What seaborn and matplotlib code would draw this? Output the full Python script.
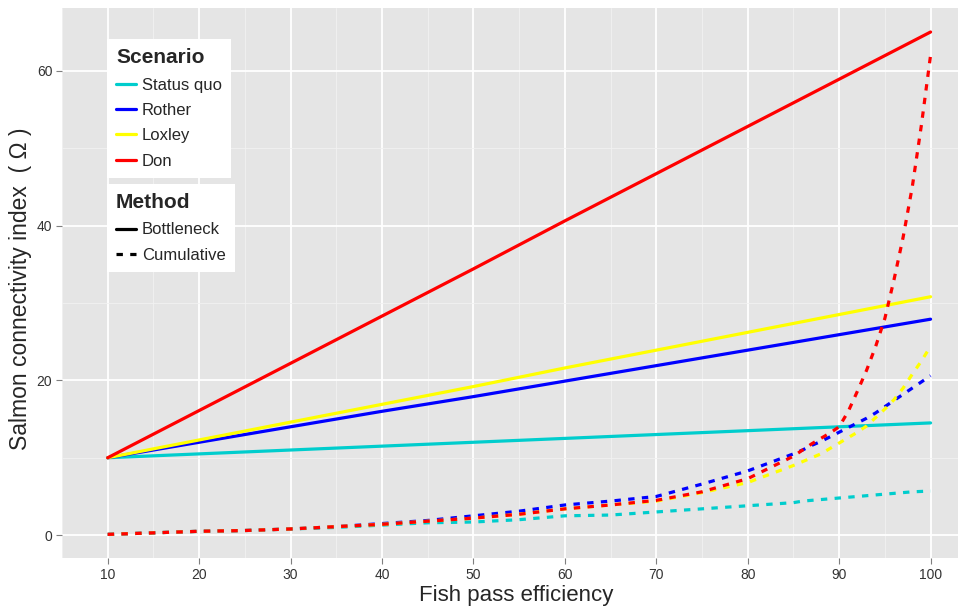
import seaborn as sns
import pandas as pd
import matplotlib.pyplot as plt
from matplotlib.lines import Line2D

# Bottleneck method (solid lines), read at every 10 %
x_bottleneck = [10, 20, 30, 40, 50, 60, 70, 80, 90, 100]
status_quo_b = [10, 10.5, 11.0, 11.5, 12.0, 12.5, 13.0, 13.5, 14.0, 14.5]
rother_b = [10, 12.0, 14.0, 16.0, 17.9, 19.9, 21.9, 23.9, 25.9, 27.9]
loxley_b = [10, 12.3, 14.6, 16.9, 19.2, 21.6, 23.9, 26.2, 28.5, 30.8]
don_b = [10, 16.1, 22.2, 28.3, 34.4, 40.6, 46.7, 52.8, 58.9, 65.0]

# Cumulative method (dashed lines)
x_cumulative = [10, 15, 20, 25, 30, 35, 40, 45, 50, 55, 60, 65, 70, 75, 80, 85,
                86, 87, 88, 89, 90, 91, 92, 93, 94, 95, 96, 97, 98, 99, 100]
status_quo_c = [0.1, 0.3, 0.5, 0.6, 0.8, 1.0, 1.3, 1.6, 1.7, 2.0, 2.5, 2.6, 3.0, 3.4, 3.8, 4.2,
                4.4, 4.5, 4.6, 4.7, 4.8, 4.9, 5.0, 5.1, 5.2, 5.3, 5.4, 5.5, 5.6, 5.65, 5.7]
rother_c = [0.1, 0.3, 0.5, 0.6, 0.8, 1.1, 1.5, 1.9, 2.5, 3.1, 3.9, 4.4, 5.0, 6.6, 8.3, 10.5,
            11.0, 11.6, 12.1, 12.7, 13.3, 13.9, 14.5, 15.1, 15.8, 16.6, 17.4, 18.2, 19.0, 19.8, 20.6]
loxley_c = [0.1, 0.3, 0.5, 0.6, 0.8, 1.1, 1.4, 1.8, 2.2, 2.7, 3.4, 3.9, 4.4, 5.5, 6.8, 9.0,
            9.5, 10.0, 10.5, 11.2, 11.9, 12.6, 13.3, 14.1, 15.2, 16.3, 17.5, 19.0, 20.8, 22.5, 24.4]
don_c = [0.1, 0.3, 0.5, 0.6, 0.8, 1.1, 1.4, 1.8, 2.2, 2.7, 3.4, 3.9, 4.5, 5.6, 7.3, 10.2,
         11.0, 11.8, 12.5, 13.2, 14.0, 16.0, 18.6, 21.3, 24.4, 28.0, 33.0, 38.5, 45.0, 53.0, 62.0]

scenarios = ["Status quo", "Rother", "Loxley", "Don"]
methods = ["Bottleneck", "Cumulative"]
colors = {"Status quo": "#00CDCD", "Rother": "#0000FF", "Loxley": "#FFFF00", "Don": "#FF0000"}

rows = []
for name, yb, yc in zip(scenarios,
                        [status_quo_b, rother_b, loxley_b, don_b],
                        [status_quo_c, rother_c, loxley_c, don_c]):
    for x, y in zip(x_bottleneck, yb):
        rows.append({"efficiency": x, "index": y, "Scenario": name, "Method": "Bottleneck"})
    for x, y in zip(x_cumulative, yc):
        rows.append({"efficiency": x, "index": y, "Scenario": name, "Method": "Cumulative"})
df = pd.DataFrame(rows)

sns.set_theme(style="darkgrid")
plt.rcParams["font.family"] = ["Liberation Sans", "DejaVu Sans"]

fig = plt.figure(figsize=(9.58, 6.09), dpi=100)
ax = fig.add_axes([62 / 958, 51 / 609, 896 / 958, 550 / 609])
ax.set_facecolor("#E5E5E5")

dash = (2.0, 2.3)
sns.lineplot(data=df, x="efficiency", y="index", hue="Scenario", style="Method",
             hue_order=scenarios, style_order=methods, palette=colors,
             dashes={"Bottleneck": "", "Cumulative": dash},
             linewidth=2.3, legend=False, ax=ax)

ax.set_xlim(5.45, 103.0)
ax.set_ylim(-2.95, 68.1)
ax.set_xticks([10, 20, 30, 40, 50, 60, 70, 80, 90, 100])
ax.set_xticks([5, 15, 25, 35, 45, 55, 65, 75, 85, 95], minor=True)
ax.set_yticks([0, 20, 40, 60])
ax.set_yticks([10, 30, 50], minor=True)
ax.grid(which="major", color="white", linewidth=1.3)
ax.grid(which="minor", color="#F2F2F2", linewidth=0.6)
for s in ax.spines.values():
    s.set_visible(False)
ax.tick_params(which="major", length=4, width=0.8, color="#7F7F7F",
               labelsize=10, labelcolor="#333333", pad=3, bottom=True, left=True)
ax.tick_params(which="minor", length=0)

ax.set_xlabel("Fish pass efficiency", fontsize=16)
ax.set_ylabel("Salmon connectivity index  ( Ω )", fontsize=16.5)
ax.xaxis.set_label_coords((516 - 62) / 896, -0.05)
ax.yaxis.set_label_coords(-0.0335, 0.49)

# legends
leg_kw = dict(loc="upper left", fontsize=12, title_fontsize=15,
              frameon=True, fancybox=False, framealpha=1, facecolor="white",
              edgecolor="none", handlelength=1.2, handletextpad=0.36,
              borderpad=0.55, labelspacing=0.62, borderaxespad=0)

h1 = [Line2D([0], [0], color=colors[s], lw=2.3) for s in scenarios]
leg1 = ax.legend(h1, scenarios, title="Scenario", bbox_to_anchor=(0.05, 0.9436), **leg_kw)
leg1.get_title().set_fontweight("bold")
leg1._legend_box.align = "left"
ax.add_artist(leg1)

h2 = [Line2D([0], [0], color="black", lw=2.3),
      Line2D([0], [0], color="black", lw=2.3, dashes=dash)]
leg2 = ax.legend(h2, methods, title="Method", bbox_to_anchor=(0.05, 0.68), **leg_kw)
leg2.get_title().set_fontweight("bold")
leg2._legend_box.align = "left"

fig.savefig("out.png", dpi=100)
